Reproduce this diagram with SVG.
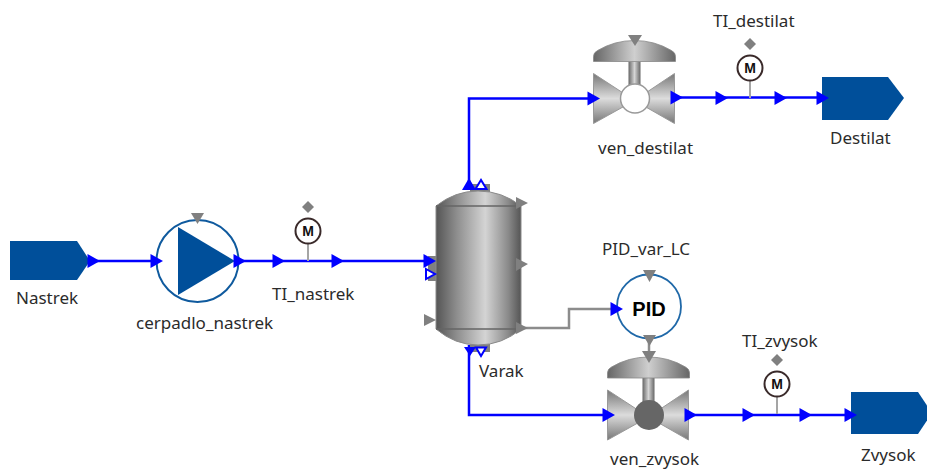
<svg xmlns="http://www.w3.org/2000/svg" width="927" height="470" viewBox="0 0 927 470">
<style>
.lbl{font-family:"Noto Sans","Liberation Sans",sans-serif;font-size:17px;fill:#2b2b2b}
.flow{fill:none;stroke:#0000ff;stroke-width:2.5}
.sig{fill:none;stroke:#8c8c8c;stroke-width:2.5}
.blk{fill:#004f9a}
.ah{fill:#0000ff}
.hol{fill:#fff;stroke:#0000ff;stroke-width:2}
.gr{fill:#808080}
.mc{fill:#fff;stroke:#3a2a2a;stroke-width:2}
.mt{font-family:"Liberation Sans",sans-serif;font-size:14px;font-weight:bold;fill:#111;text-anchor:middle}
.stem{stroke:#a5a5a5;stroke-width:2;fill:none}
</style>
<defs>
<linearGradient id="tank" x1="0" x2="1" y1="0" y2="0">
<stop offset="0" stop-color="#555"/><stop offset=".25" stop-color="#8f8f8f"/><stop offset=".58" stop-color="#d4d4d4"/><stop offset=".85" stop-color="#8a8a8a"/><stop offset="1" stop-color="#555"/>
</linearGradient>
<linearGradient id="act" x1="0" x2="1" y1="0" y2="0">
<stop offset="0" stop-color="#666"/><stop offset=".5" stop-color="#cfcfcf"/><stop offset="1" stop-color="#666"/>
</linearGradient>
<linearGradient id="bodyL" x1="0" x2="0" y1="0" y2="1">
<stop offset="0" stop-color="#777"/><stop offset=".5" stop-color="#dcdcdc"/><stop offset="1" stop-color="#777"/>
</linearGradient>
<linearGradient id="stemG" x1="0" x2="1" y1="0" y2="0">
<stop offset="0" stop-color="#666"/><stop offset=".5" stop-color="#d5d5d5"/><stop offset="1" stop-color="#666"/>
</linearGradient>
<path id="arrow" class="ah" d="M-12.5,-7 L0,0 L-12.5,7 Z"/>
<g id="meter">
<line class="stem" x1="0" y1="13" x2="0" y2="30"/>
<circle class="mc" r="12.500"/>
<text class="mt" y="5">M</text>
<path class="gr" d="M0,-30 L6,-24 L0,-18 L-6,-24 Z"/>
</g>
<g id="valve">
<path fill="url(#bodyL)" stroke="#999" stroke-width="1" d="M-41,-25 L0,2 L-41,25 Z M40,-25 L0,2 L40,25 Z"/>
<rect x="-6" y="-37" width="12" height="28" fill="url(#stemG)"/>
<path fill="url(#act)" stroke="#888" stroke-width=".8" d="M-41,-37 V-42 Q-41,-46 -37,-48 Q-20,-58 0,-58 Q20,-58 37,-48 Q41,-46 41,-42 V-37 Z"/>
</g>
</defs>

<g id="connectors">
<path class="flow" d="M90,261 H234"/>
<path class="flow" d="M235,261 H436"/>
<path class="flow" d="M469,190 V98.500 H600"/>
<path class="flow" d="M670,97.500 H829"/>
<path class="flow" d="M469,345 V415 H615"/>
<path class="flow" d="M684,415 H857"/>
<path class="sig" d="M520,328 H569 V309 H622"/>
<path class="sig" d="M649,340 V362"/>
</g>

<g id="Nastrek">
<path class="blk" d="M10,241 H77 L90,261 L77,280 H10 Z"/>
<use href="#arrow" x="100" y="261"/>
<text class="lbl" x="16" y="304">Nastrek</text>
</g>

<g id="cerpadlo_nastrek">
<circle cx="197.500" cy="261" r="41" fill="#fff" stroke="#0f5a9e" stroke-width="2"/>
<path class="blk" d="M178,227 L235,261 L178,295 Z"/>
<path class="gr" d="M191,213 H204 L197.500,224 Z"/>
<use href="#arrow" x="163" y="261"/>
<use href="#arrow" x="246" y="261"/>
<text class="lbl" x="136" y="329">cerpadlo_nastrek</text>
</g>

<g id="TI_nastrek">
<use href="#meter" x="308" y="231"/>
<use href="#arrow" x="285" y="261"/>
<use href="#arrow" x="344" y="261"/>
<text class="lbl" x="272" y="300">TI_nastrek</text>
</g>

<g id="Varak">
<rect x="428" y="256" width="9" height="25" fill="#808080"/>
<rect x="470" y="184" width="20" height="8" fill="#808080"/>
<rect x="470" y="344" width="20" height="8" fill="#808080"/>
<path fill="url(#tank)" stroke="#8a8a8a" stroke-width="1" d="M436,206 Q455,191 478,191 Q502,191 521,206 V329 Q502,345 478,345 Q455,345 436,329 Z"/>
<path d="M436,206 H521 M436,329 H521" stroke="#666" stroke-width="1.500" fill="none"/>
<path class="gr" d="M516,197 L528,203 L516,209 Z M516,258 L528,264 L516,271 Z M516,322 L528,328 L516,334 Z M424,314 L436,320 L424,326 Z"/>
<path class="ah" d="M462,190 L469,178 L476,190 Z"/>
<path class="hol" d="M475.500,189 L481,180 L486.500,189 Z"/>
<use href="#arrow" x="436" y="261"/>
<path class="hol" d="M426,269 L435,274 L426,279 Z"/>
<path class="ah" d="M464,347 H476 L470,356 Z"/>
<path class="hol" d="M476,347.500 H486 L481,356 Z"/>
<text class="lbl" x="479" y="377">Varak</text>
</g>

<g id="ven_destilat">
<use href="#valve" x="634.500" y="98.500"/>
<circle cx="635" cy="98.500" r="14.500" fill="#fff" stroke="#999" stroke-width="1.500"/>
<path class="gr" d="M628,35 H642 L635,46 Z"/>
<use href="#arrow" x="600" y="98.500"/>
<use href="#arrow" x="683" y="97.500"/>
<text class="lbl" x="598" y="154">ven_destilat</text>
</g>

<g id="TI_destilat">
<use href="#meter" x="750" y="68"/>
<use href="#arrow" x="728" y="98"/>
<use href="#arrow" x="787" y="98"/>
<text class="lbl" x="713" y="27">TI_destilat</text>
</g>

<g id="Destilat">
<path class="blk" d="M822,77 H888 L904,98 L888,120 H822 Z"/>
<use href="#arrow" x="829" y="98"/>
<text class="lbl" x="830" y="144">Destilat</text>
</g>

<g id="PID_var_LC">
<circle cx="649" cy="306.500" r="32" fill="#fff" stroke="#1f68a8" stroke-width="1.800"/>
<text x="649" y="315.500" text-anchor="middle" font-family="Liberation Sans, sans-serif" font-size="20" font-weight="bold" fill="#000">PID</text>
<path class="gr" d="M643,270 H656 L649.500,282 Z M643,335 H656 L649.500,346 Z"/>
<use href="#arrow" x="623" y="309" style="fill:#808080"/>
<text class="lbl" x="602" y="255">PID_var_LC</text>
</g>
<g id="ven_zvysok">
<use href="#valve" x="648.500" y="415"/>
<path class="gr" d="M642,351 H656 L649,363 Z"/>
<circle cx="649" cy="415" r="15" fill="#666"/>
<use href="#arrow" x="615" y="415"/>
<use href="#arrow" x="697" y="415"/>
<text class="lbl" x="610" y="464.500">ven_zvysok</text>
</g>

<g id="TI_zvysok">
<use href="#meter" x="777" y="384"/>
<use href="#arrow" x="755" y="415"/>
<use href="#arrow" x="812" y="415"/>
<text class="lbl" x="742" y="347">TI_zvysok</text>
</g>

<g id="Zvysok">
<path class="blk" d="M851,392 H918 L932,413 L918,434 H851 Z"/>
<use href="#arrow" x="857" y="415"/>
<text class="lbl" x="861" y="461">Zvysok</text>
</g>
</svg>
